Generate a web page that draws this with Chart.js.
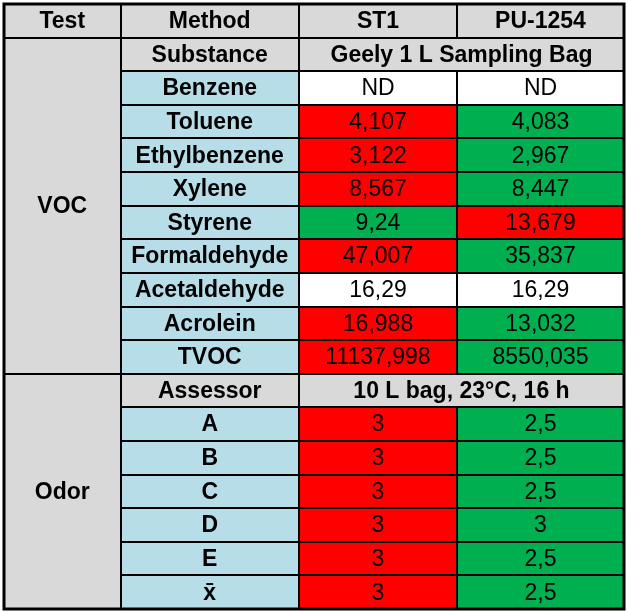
<!DOCTYPE html>
<html>
<head>
<meta charset="utf-8">
<script src="https://cdn.jsdelivr.net/npm/chart.js@4.4.1/dist/chart.umd.min.js"></script>
<style>
  html, body { margin: 0; padding: 0; background: #fff; }
  #wrap { width: 627px; height: 612px; }
</style>
</head>
<body>
<div id="wrap"><canvas id="tbl" width="627" height="612"></canvas></div>
<script>
// table rows, top to bottom
var TEST_LABELS = ['Test',
  'VOC','VOC','VOC','VOC','VOC','VOC','VOC','VOC','VOC','VOC',
  'Odor','Odor','Odor','Odor','Odor','Odor','Odor'];
var METHOD_LABELS = ['Method','Substance','Benzene','Toluene','Ethylbenzene','Xylene',
  'Styrene','Formaldehyde','Acetaldehyde','Acrolein','TVOC',
  'Assessor','A','B','C','D','E','x\u0304'];
var ST1_VALUES = ['ST1','Geely 1 L Sampling Bag','ND','4,107','3,122','8,567',
  '9,24','47,007','16,29','16,988','11137,998',
  '10 L bag, 23°C, 16 h','3','3','3','3','3','3'];
// null = merged into the ST1 cell
var PU_VALUES = ['PU-1254',null,'ND','4,083','2,967','8,447',
  '13,679','35,837','16,29','13,032','8550,035',
  null,'2,5','2,5','2,5','3','2,5','2,5'];
// h = header, w = no mark, r = worse, g = better
var ST1_MARKS = ['h','h','w','r','r','r','g','r','w','r','r','h','r','r','r','r','r','r'];
var PU_MARKS  = ['h',null,'w','g','g','g','r','g','w','g','g',null,'g','g','g','g','g','g'];

// column edges (x units), layout only
var COL_EDGES = [0, 116.5, 295, 453, 620];
var FILL = { h: '#D9D9D9', w: '#FFFFFF', r: '#FF0000', g: '#00B050', b: '#B7DEE8' };
var FONT = '"Liberation Sans", Arial, sans-serif';

function isSubHeader(i) { return i === 0 || PU_VALUES[i] === null; }

function colData(c) {
  return METHOD_LABELS.map(function(_, i) {
    if (c === 3 && PU_VALUES[i] === null) return null;
    if (c === 2 && PU_VALUES[i] === null) return [COL_EDGES[2], COL_EDGES[4]];
    return [COL_EDGES[c], COL_EDGES[c + 1]];
  });
}

var testColors = TEST_LABELS.map(function() { return FILL.h; });
var methodColors = METHOD_LABELS.map(function(_, i) { return isSubHeader(i) ? FILL.h : FILL.b; });
var st1Colors = ST1_MARKS.map(function(m) { return FILL[m]; });
var puColors = PU_MARKS.map(function(m) { return m ? FILL[m] : FILL.h; });

var tablePlugin = {
  id: 'tableGrid',
  afterDatasetsDraw: function(chart) {
    var ctx = chart.ctx, xs = chart.scales.x, ys = chart.scales.y;
    var n = METHOD_LABELS.length;
    var step = ys.getPixelForValue(1) - ys.getPixelForValue(0);
    var edge = COL_EDGES.map(function(v) { return xs.getPixelForValue(v); });
    function top(i) { return ys.getPixelForValue(i) - step / 2; }
    function mid(i) { return ys.getPixelForValue(i); }
    var r = Math.round;

    ctx.save();
    ctx.strokeStyle = '#000';
    ctx.lineWidth = 2;
    ctx.beginPath();
    // horizontal rules
    for (var i = 1; i < n; i++) {
      var x0 = TEST_LABELS[i - 1] === TEST_LABELS[i] ? edge[1] : edge[0];
      ctx.moveTo(r(x0), r(top(i)));
      ctx.lineTo(r(edge[4]), r(top(i)));
    }
    // vertical rules
    [1, 2].forEach(function(c) {
      ctx.moveTo(r(edge[c]), r(top(0)));
      ctx.lineTo(r(edge[c]), r(top(n)));
    });
    for (var j = 0; j < n; j++) {
      if (PU_VALUES[j] === null) continue;
      ctx.moveTo(r(edge[3]), r(top(j)));
      ctx.lineTo(r(edge[3]), r(top(j + 1)));
    }
    ctx.stroke();
    ctx.lineWidth = 3;
    ctx.strokeRect(edge[0], top(0), edge[4] - edge[0], top(n) - top(0));

    // texts
    ctx.textAlign = 'center';
    ctx.textBaseline = 'middle';
    ctx.fillStyle = '#000';
    function put(txt, x, y, bold) {
      ctx.font = (bold ? 'bold ' : '') + '23px ' + FONT;
      ctx.fillText(txt, x, y + 1);
    }
    // Test column, merged runs
    var s = 0;
    for (var k = 1; k <= n; k++) {
      if (k === n || TEST_LABELS[k] !== TEST_LABELS[s]) {
        put(TEST_LABELS[s], (edge[0] + edge[1]) / 2, (top(s) + top(k)) / 2, true);
        s = k;
      }
    }
    for (var m = 0; m < n; m++) {
      var sub = isSubHeader(m);
      put(METHOD_LABELS[m], (edge[1] + edge[2]) / 2, mid(m), true);
      if (PU_VALUES[m] === null) {
        put(ST1_VALUES[m], (edge[2] + edge[4]) / 2, mid(m), true);
      } else {
        put(ST1_VALUES[m], (edge[2] + edge[3]) / 2, mid(m), sub);
        put(PU_VALUES[m], (edge[3] + edge[4]) / 2, mid(m), sub);
      }
    }
    ctx.restore();
  }
};

function mk(label, c, colors) {
  return {
    label: label,
    data: colData(c),
    backgroundColor: colors,
    borderWidth: 0,
    grouped: false,
    barPercentage: 1.03,
    categoryPercentage: 1
  };
}

new Chart(document.getElementById('tbl'), {
  type: 'bar',
  data: {
    labels: METHOD_LABELS,
    datasets: [
      mk('Test', 0, testColors),
      mk('Method', 1, methodColors),
      mk('ST1', 2, st1Colors),
      mk('PU-1254', 3, puColors)
    ]
  },
  options: {
    indexAxis: 'y',
    responsive: false,
    animation: false,
    layout: { padding: { left: 4, right: 3, top: 4, bottom: 3 } },
    scales: {
      x: { type: 'linear', min: 0, max: 620, display: false },
      y: { type: 'category', display: false, offset: true }
    },
    plugins: {
      legend: { display: false },
      tooltip: { enabled: false }
    }
  },
  plugins: [tablePlugin]
});
</script>
</body>
</html>
